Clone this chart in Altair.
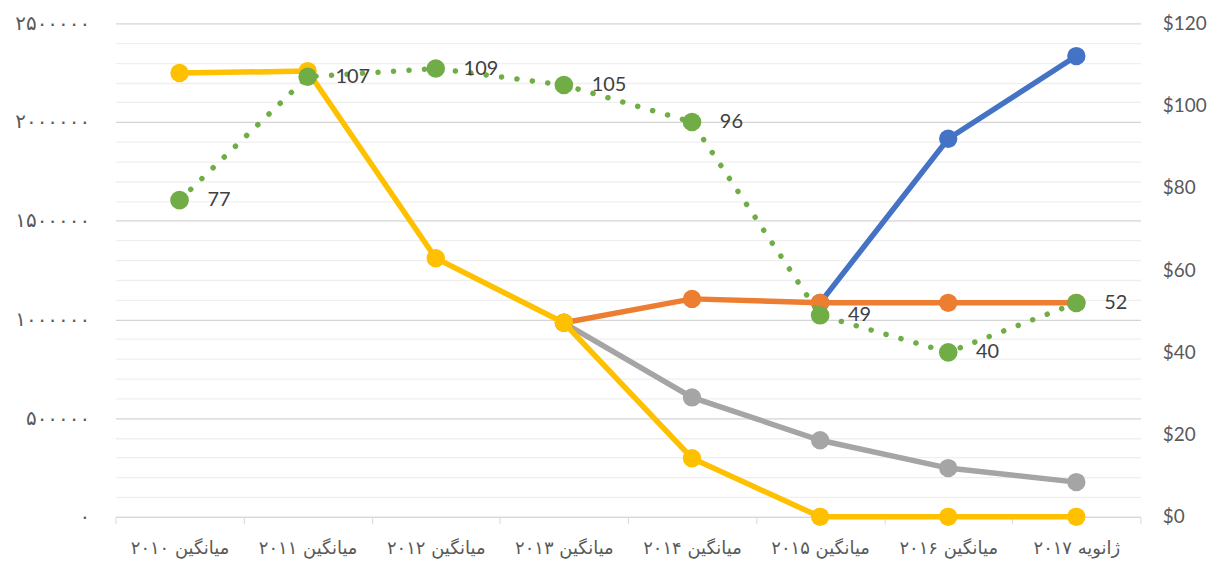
import altair as alt
import pandas as pd

categories = ['میانگین ۲۰۱۰', 'میانگین ۲۰۱۱', 'میانگین ۲۰۱۲', 'میانگین ۲۰۱۳',
              'میانگین ۲۰۱۴', 'میانگین ۲۰۱۵', 'میانگین ۲۰۱۶', 'ژانویه ۲۰۱۷']

blue = [None, None, None, None, None, 1084000, 1915000, 2334000]
orange = [None, None, None, 983000, 1104000, 1084000, 1084000, 1084000]
gray = [None, None, None, 983000, 605000, 388000, 247000, 176000]
yellow = [2248000, 2258000, 1310000, 983000, 297000, 0, 0, 0]
green = [77, 107, 109, 105, 96, 49, 40, 52]

left_ticks = list(range(0, 2500001, 100000))
left_major = [0, 500000, 1000000, 1500000, 2000000, 2500000]
left_labels = ['۰', '۵۰۰۰۰۰', '۱۰۰۰۰۰۰', '۱۵۰۰۰۰۰', '۲۰۰۰۰۰۰', '۲۵۰۰۰۰۰']
right_ticks = [0, 20, 40, 60, 80, 100, 120]

series = [('blue', blue, '#4472C4'), ('orange', orange, '#ED7D31'),
          ('gray', gray, '#A5A5A5'), ('yellow', yellow, '#FFC000')]

rows = []
for name, vals, _ in series:
    for c, v in zip(categories, vals):
        if v is not None:
            rows.append({'cat': c, 'series': name, 'v': v})
left_df = pd.DataFrame(rows)
green_df = pd.DataFrame({'cat': categories, 'price': green})

label_expr = "''"
for v, l in reversed(list(zip(left_major, left_labels))):
    label_expr = f"datum.value == {v} ? '{l}' : ({label_expr})"

x_enc = alt.X('cat:N', sort=categories, bandPosition=0.5,
              scale=alt.Scale(type='band', paddingInner=0, paddingOuter=0),
              axis=alt.Axis(title=None, labelAngle=0, labelFont='DejaVu Sans',
                            labelFontSize=18, labelColor='#595959',
                            domainColor='#d9d9d9', tickColor='#d9d9d9',
                            tickSize=7, tickBand='extent', labelPadding=16,
                            grid=False))

left_axis = alt.Axis(title=None, values=left_ticks, labelExpr=label_expr,
                     labelFont='DejaVu Sans', labelFontSize=20,
                     labelColor='#595959', labelPadding=26, ticks=False,
                     domain=False, grid=True,
                     gridColor={"condition": {"test": "datum.value % 500000 === 0",
                                              "value": "#d4d4d4"},
                                "value": "#efefef"},
                     gridWidth=1.3)
y_left = alt.Y('v:Q', scale=alt.Scale(domain=[0, 2500000], nice=False), axis=left_axis)

left_layers = []
for name, _, color in series:
    b = alt.Chart(left_df).transform_filter(alt.datum.series == name)
    left_layers.append(b.mark_line(color=color, strokeWidth=5.5).encode(x=x_enc, y=y_left))
    left_layers.append(b.mark_circle(color=color, size=340, opacity=1).encode(x=x_enc, y=y_left))
left = alt.layer(*left_layers)

right_axis = alt.Axis(title=None, values=right_ticks, format='$.0f', orient='right',
                      labelFont='Lato', labelFontSize=19, labelColor='#595959',
                      labelPadding=22, ticks=False, domain=False, grid=False)
y_right = alt.Y('price:Q', scale=alt.Scale(domain=[0, 120], nice=False), axis=right_axis)

gb = alt.Chart(green_df)
right = alt.layer(
    gb.mark_line(color='#70AD47', strokeWidth=5.5, strokeDash=[0.1, 15.5], strokeCap='round').encode(x=x_enc, y=y_right),
    gb.mark_circle(color='#70AD47', size=350, opacity=1).encode(x=x_enc, y=y_right),
    gb.mark_text(align='left', baseline='middle', dx=28, font='Lato', fontSize=20,
                 color='#404040').encode(x=x_enc, y=y_right, text=alt.Text('price:Q', format='.0f')),
)

chart = alt.layer(left, right).resolve_scale(y='independent').properties(
    width=1030, height=496,
    autosize=alt.AutoSizeParams(type='none'),
    padding={'left': 108, 'top': 14, 'right': 80, 'bottom': 41},
    background='white',
).configure_view(stroke=None)

chart.save("out.html", embed_options={"renderer": "svg", "actions": False})
